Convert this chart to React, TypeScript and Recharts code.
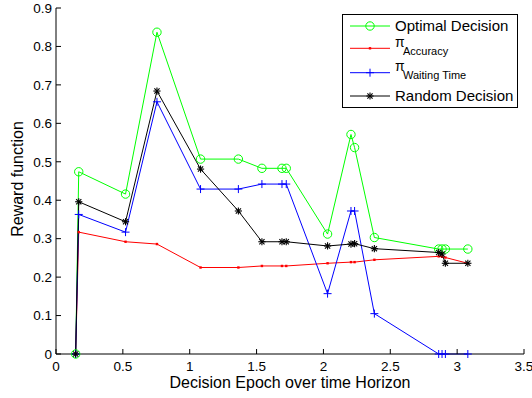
import { LineChart, Line, XAxis, YAxis, Legend } from "recharts";

// decision epochs (shared by every series)
const epochs = [0.147, 0.17, 0.52, 0.755, 1.081, 1.364, 1.54, 1.69, 1.722, 2.031, 2.206, 2.233, 2.381, 2.862, 2.887, 2.912, 3.08];

const optimal = [0, 0.474, 0.416, 0.837, 0.507, 0.507, 0.483, 0.483, 0.483, 0.312, 0.571, 0.537, 0.303, 0.273, 0.273, 0.273, 0.273];
const accuracy = [0, 0.317, 0.292, 0.286, 0.225, 0.225, 0.229, 0.229, 0.229, 0.236, 0.239, 0.239, 0.245, 0.254, 0.253, 0.251, 0.236];
const waitingTime = [0, 0.363, 0.317, 0.656, 0.429, 0.429, 0.442, 0.442, 0.442, 0.157, 0.372, 0.372, 0.105, 0, 0, 0, 0];
const randomDecision = [0, 0.396, 0.344, 0.684, 0.481, 0.372, 0.292, 0.292, 0.292, 0.281, 0.286, 0.287, 0.274, 0.264, 0.26, 0.236, 0.236];

const xTicks = [0, 0.5, 1, 1.5, 2, 2.5, 3, 3.5];
const yTicks = [0, 0.1, 0.2, 0.3, 0.4, 0.5, 0.6, 0.7, 0.8, 0.9];

const legendItems = [
  { key: "optimal", main: "Optimal Decision", sub: "", color: "#00ff00", marker: "circle" },
  { key: "accuracy", main: "\u03c0", sub: "Accuracy", color: "#ff0000", marker: "dot" },
  { key: "waiting", main: "\u03c0", sub: "Waiting Time", color: "#0000ff", marker: "plus" },
  { key: "random", main: "Random Decision", sub: "", color: "#000000", marker: "star" },
];

const data = epochs.map((x, i) => ({
  x,
  optimal: optimal[i],
  accuracy: accuracy[i],
  waiting: waitingTime[i],
  random: randomDecision[i],
}));

const FONT = "'Liberation Sans', Arial, Helvetica, sans-serif";
const TICK_FS = 13.5;

function Marker({ type, cx, cy, color }: { type: string; cx: number; cy: number; color: string }) {
  if (cx == null || cy == null) return null;
  if (type === "circle") {
    return <circle cx={cx} cy={cy} r={4.2} fill="none" stroke={color} strokeWidth={1} />;
  }
  if (type === "dot") {
    return <rect x={cx - 1.2} y={cy - 1.2} width={2.4} height={2.4} fill={color} />;
  }
  if (type === "plus") {
    return (
      <g stroke={color} strokeWidth={1}>
        <line x1={cx - 4} x2={cx + 4} y1={cy} y2={cy} />
        <line x1={cx} x2={cx} y1={cy - 4} y2={cy + 4} />
      </g>
    );
  }
  // asterisk
  const d = 2.6;
  return (
    <g stroke={color} strokeWidth={1.1}>
      <line x1={cx - 3.6} x2={cx + 3.6} y1={cy} y2={cy} />
      <line x1={cx} x2={cx} y1={cy - 3.6} y2={cy + 3.6} />
      <line x1={cx - d} x2={cx + d} y1={cy - d} y2={cy + d} />
      <line x1={cx - d} x2={cx + d} y1={cy + d} y2={cy - d} />
    </g>
  );
}

const makeDot = (type: string, color: string) => (props: any) => (
  <Marker key={`${type}-${props.index}`} type={type} cx={props.cx} cy={props.cy} color={color} />
);

function XTick({ x, y, payload }: any) {
  return (
    <g>
      <line x1={x} x2={x} y1={y} y2={y - 5} stroke="#000" />
      <text x={x} y={y + 17} textAnchor="middle" fontSize={TICK_FS} fontFamily={FONT} fill="#000">
        {payload.value}
      </text>
    </g>
  );
}

function YTick({ x, y, payload }: any) {
  const v = payload.value;
  return (
    <g>
      <line x1={x} x2={x + 5} y1={y} y2={y} stroke="#000" />
      <text x={x - 4} y={y + 4.8} textAnchor="end" fontSize={TICK_FS} fontFamily={FONT} fill="#000">
        {v === 0 ? "0" : v.toFixed(1)}
      </text>
    </g>
  );
}

function LegendBox() {
  const rows = [12, 34.3, 58.7, 82];
  return (
    <svg width={176} height={94} style={{ display: "block" }}>
      <rect x={0.5} y={0.5} width={175} height={93} fill="#fff" stroke="#000" />
      {legendItems.map((it, i) => {
        const ly = rows[i];
        return (
          <g key={it.key}>
            <line x1={8} x2={48} y1={ly} y2={ly} stroke={it.color} />
            <Marker type={it.marker} cx={28} cy={ly} color={it.color} />
            {it.sub ? (
              <g>
                <text x={53} y={ly - 1.5} fontSize={14} fontFamily={FONT} fill="#000">
                  {it.main}
                </text>
                <text x={61} y={ly + 6.5} fontSize={11} fontFamily={FONT} fill="#000">
                  {it.sub}
                </text>
              </g>
            ) : (
              <text x={53} y={ly + 5.3} fontSize={15} fontFamily={FONT} fill="#000">
                {it.main}
              </text>
            )}
          </g>
        );
      })}
    </svg>
  );
}

export default function App() {
  return (
    <div style={{ position: "absolute", left: 0, top: 0, width: 532, height: 398, background: "#fff" }}>
      <LineChart width={532} height={398} data={data} margin={{ top: 8, right: 8, bottom: 0, left: 0 }}>
        <XAxis
          type="number"
          dataKey="x"
          domain={[0, 3.5]}
          ticks={xTicks}
          height={44}
          tickSize={0}
          tickMargin={0}
          tick={<XTick />}
          axisLine={{ stroke: "#000" }}
          interval={0}
          label={{
            content: ({ viewBox }: any) => (
              <text
                x={viewBox.x + viewBox.width / 2}
                y={388}
                textAnchor="middle"
                fontSize={16}
                fontFamily={FONT}
                fill="#000"
              >
                Decision Epoch over time Horizon
              </text>
            ),
          }}
        />
        <YAxis
          type="number"
          domain={[0, 0.9]}
          ticks={yTicks}
          width={56}
          tickSize={0}
          tickMargin={0}
          tick={<YTick />}
          axisLine={{ stroke: "#000" }}
          interval={0}
          label={{
            content: () => (
              <text
                x={22.5}
                y={179}
                transform="rotate(-90, 22.5, 179)"
                textAnchor="middle"
                fontSize={16}
                fontFamily={FONT}
                fill="#000"
              >
                Reward function
              </text>
            ),
          }}
        />
        <Legend
          layout="vertical"
          align="center"
          verticalAlign="middle"
          wrapperStyle={{ left: 342, top: 14, width: 176, height: 94 }}
          content={() => <LegendBox />}
        />
        <Line
          dataKey="optimal"
          stroke="#00ff00"
          strokeWidth={1}
          dot={makeDot("circle", "#00ff00")}
          activeDot={false}
          isAnimationActive={false}
        />
        <Line
          dataKey="accuracy"
          stroke="#ff0000"
          strokeWidth={1}
          dot={makeDot("dot", "#ff0000")}
          activeDot={false}
          isAnimationActive={false}
        />
        <Line
          dataKey="waiting"
          stroke="#0000ff"
          strokeWidth={1}
          dot={makeDot("plus", "#0000ff")}
          activeDot={false}
          isAnimationActive={false}
        />
        <Line
          dataKey="random"
          stroke="#000000"
          strokeWidth={1}
          dot={makeDot("star", "#000000")}
          activeDot={false}
          isAnimationActive={false}
        />
      </LineChart>
    </div>
  );
}
